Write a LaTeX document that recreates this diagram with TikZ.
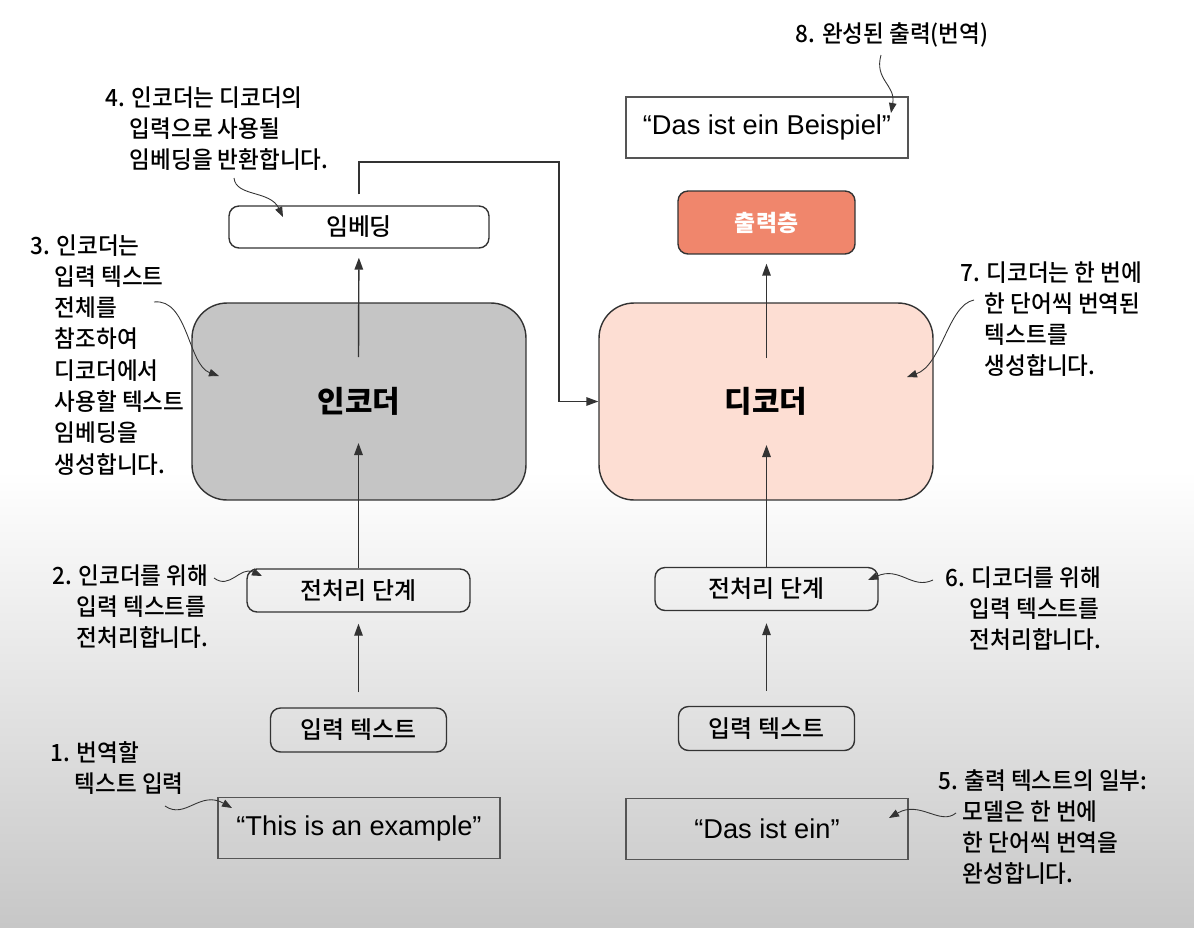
\documentclass[tikz,border=0pt]{standalone}
\usepackage{fontspec}
\setmainfont{Noto Sans CJK KR}
\newfontfamily\krmed[FakeStretch=0.95]{Noto Sans CJK KR Medium}
\newfontfamily\krbox{Noto Sans CJK KR Medium}
\newfontfamily\quotefont{Liberation Sans}
\usetikzlibrary{arrows.meta}

\definecolor{linegray}{RGB}{51,51,51}
\definecolor{boxgray}{RGB}{85,85,85}
\definecolor{encfill}{RGB}{197,197,197}
\definecolor{decfill}{RGB}{253,222,211}
\definecolor{outfill}{RGB}{240,134,108}
\definecolor{bgbottom}{RGB}{199,199,199}

\newcommand{\numgap}{\hphantom{0.\ }}

\tikzset{
  block/.style={draw=linegray, line width=0.8pt, rounded corners=0.7cm,
    minimum width=6.68cm, minimum height=3.94cm, inner sep=0pt,
    font=\fontsize{17}{20}\selectfont\bfseries},
  stepbox/.style={draw=linegray, line width=0.8pt, rounded corners=0.2cm,
    inner sep=0pt, font=\krbox\fontsize{13.6}{16}\selectfont},
  quotebox/.style={draw=boxgray, line width=0.9pt, minimum width=5.64cm,
    minimum height=1.22cm, inner sep=0pt,
    font=\quotefont\fontsize{15.5}{18}\selectfont},
  note/.style={anchor=north west, inner sep=0pt, align=left,
    font=\krmed\fontsize{13.5}{17.8}\selectfont},
  flow/.style={draw=linegray, line width=0.8pt,
    -{Triangle[length=2.4mm,width=1.7mm]}},
  pointer/.style={draw=linegray, line width=0.5pt,
    -{Triangle[length=2mm,width=1.5mm]}},
}

\begin{document}
\begin{tikzpicture}[x=0.02cm, y=-0.02cm]
  \useasboundingbox (0,0) rectangle (1194,927);
  % background
  \fill[white] (0,0) rectangle (1194,927);
  \shade[top color=white, bottom color=bgbottom] (0,470) rectangle (1194,927);

  % encoder side
  \node[block, fill=encfill] (enc) at (359,401.5) {인코더};
  \node[stepbox, fill=white, minimum width=5.2cm, minimum height=0.84cm] (emb) at (359,227) {임베딩};
  \node[stepbox, minimum width=4.46cm, minimum height=0.86cm] (encpre) at (358.5,590.5) {전처리 단계};
  \node[stepbox, minimum width=3.52cm, minimum height=0.88cm] (encin) at (358.5,730) {입력 텍스트};
  \node[quotebox] (src) at (359,828) {“This is an example”};

  % decoder side
  \node[block, fill=decfill] (dec) at (766,401.5) {디코더};
  \node[stepbox, fill=outfill, text=white, minimum width=3.54cm, minimum height=1.26cm,
    font=\fontsize{13}{15}\selectfont\bfseries] (outl) at (766.5,222.5) {출력층};
  \node[quotebox, fill=white] (tgt) at (767,127.5) {“Das ist ein Beispiel”};
  \node[stepbox, minimum width=4.46cm, minimum height=0.86cm] (decpre) at (766.5,589) {전처리 단계};
  \node[stepbox, minimum width=3.52cm, minimum height=0.88cm] (decin) at (766.5,728.5) {입력 텍스트};
  \node[quotebox] (part) at (767,829) {“Das ist ein”};

  % flow arrows
  \coordinate (encup) at (358.5,357);
  \coordinate (enclow) at (358.5,443);
  \coordinate (decup) at (766.5,358);
  \coordinate (declow) at (766.5,445);
  \coordinate (bend) at (559,162);
  \draw[flow, shorten <=3mm, shorten >=2.2mm] (encin) -- (encpre);
  \draw[flow] (encpre) -- (enclow);
  \draw[flow, shorten >=1.8mm] (encup) -- (emb);
  \draw[flow, shorten <=3mm, shorten >=2.4mm] (decin) -- (decpre);
  \draw[flow] (decpre) -- (declow);
  \draw[flow, shorten >=1.8mm] (decup) -- (outl);
  \draw[flow, shorten <=2.2mm] (emb.north) |- (bend) |- (dec.west);

  % annotations
  \node[anchor=center, inner sep=0pt, font=\krmed\fontsize{13.5}{17.8}\selectfont] (note8) at (892,35) {8. 완성된 출력(번역)};
  \node[note] (note4) at (105,86) {4. 인코더는 디코더의\\\numgap 입력으로 사용될\\\numgap 임베딩을 반환합니다.};
  \node[note] (note3) at (30,234) {3. 인코더는\\\numgap 입력 텍스트\\\numgap 전체를\\\numgap 참조하여\\\numgap 디코더에서\\\numgap 사용할 텍스트\\\numgap 임베딩을\\\numgap 생성합니다.};
  \node[note] (note2) at (52,564) {2. 인코더를 위해\\\numgap 입력 텍스트를\\\numgap 전처리합니다.};
  \node[note] (note1) at (50,741) {1. 번역할\\\numgap 텍스트 입력};
  \node[note] (note7) at (960,261) {7. 디코더는 한 번에\\\numgap 한 단어씩 번역된\\\numgap 텍스트를\\\numgap 생성합니다.};
  \node[note] (note6) at (945,566) {6. 디코더를 위해\\\numgap 입력 텍스트를\\\numgap 전처리합니다.};
  \node[note] (note5) at (938,769) {5. 출력 텍스트의 일부:\\\numgap 모델은 한 번에\\\numgap 한 단어씩 번역을\\\numgap 완성합니다.};

  % pointers
  \draw[pointer] (881,55) .. controls (874,80) and (896,85) .. (891,113);
  \draw[pointer] (234,178) .. controls (236,197) and (270,190) .. (283,217);
  \draw[pointer] (154,302) .. controls (188,298) and (188,365) .. (219,376);
  \draw[pointer] (214,578) .. controls (230,590) and (240,566) .. (262,576);
  \draw[pointer] (165,806) .. controls (185,820) and (200,790) .. (232,808);
  \draw[pointer] (974,300) .. controls (948,305) and (942,365) .. (907,377);
  \draw[pointer] (933,580) .. controls (912,590) and (900,566) .. (868,580);
  \draw[pointer] (956,813) .. controls (940,826) and (920,800) .. (889,818);
\end{tikzpicture}
\end{document}
